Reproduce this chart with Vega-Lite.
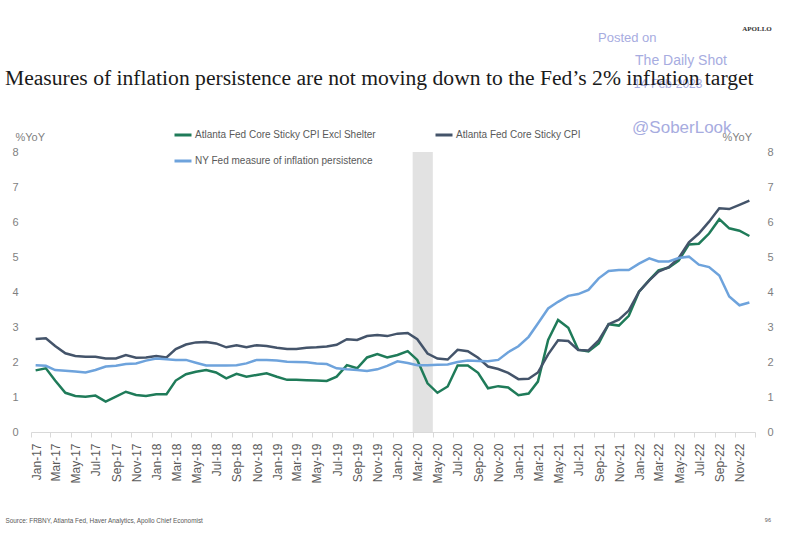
{
  "$schema": "https://vega.github.io/schema/vega-lite/v6.json",
  "width": 724,
  "height": 280,
  "autosize": {"type": "none"},
  "padding": {"left": 31, "top": 152, "right": 31, "bottom": 108},
  "background": "white",
  "title": {
    "text": "Measures of inflation persistence are not moving down to the Fed’s 2% inflation target",
    "anchor": "start", "frame": "group", "orient": "top",
    "font": "Liberation Serif", "fontSize": 21.6, "fontWeight": "normal", "color": "#1a1a1a",
    "baseline": "alphabetic", "offset": 0, "dx": -26, "dy": 81
  },
  "config": {"view": {"stroke": null}, "font": "Liberation Sans", "axis": {"grid": false}},
  "resolve": {"scale": {"y": "independent"}},
  "layer": [
    {
      "data": {"values": [{"start": "2020-03-01", "end": "2020-05-01"}]},
      "mark": {"type": "rect", "color": "#e2e2e2"},
      "encoding": {
        "x": {"field": "start", "type": "temporal",
          "scale": {"type": "utc", "domain": [{"year": 2017, "month": 1, "date": 1, "utc": true}, {"year": 2023, "month": 1, "date": 1, "utc": true}]},
          "axis": {"orient": "bottom", "format": "%b-%y", "labelAngle": 270, "tickCount": {"interval": "month", "step": 2},
            "labelExpr": "utcyear(datum.value) >= 2023 ? '' : datum.label",
            "labelOffset": 5, "labelPadding": 6, "tickSize": 5, "domainColor": "#d9d9d9", "tickColor": "#d9d9d9",
            "labelFontSize": 12, "labelColor": "#595959", "labelFont": "Liberation Sans", "labelOverlap": false, "labelFlush": false, "labelBound": false,
            "title": "Source: FRBNY, Atlanta Fed, Haver Analytics, Apollo Chief Economist",
            "titleX": -26, "titleY": 88, "titleAlign": "left", "titleAnchor": null, "titleBaseline": "middle", "titleAngle": 0,
            "titleFontSize": 6.4, "titleFontWeight": "normal", "titleColor": "#595959", "titleFont": "Liberation Sans"}},
        "x2": {"field": "end"},
        "y": {"datum": 8, "type": "quantitative", "scale": {"domain": [0, 8], "nice": false},
          "axis": {"orient": "right", "values": [0,1,2,3,4,5,6,7,8], "labelOverlap": false, "domain": false, "ticks": false, "tickSize": 0, "labelPadding": 12,
            "labelFontSize": 11, "labelColor": "#7f7f7f", "labelFont": "Liberation Sans",
            "title": "%YoY", "titleAngle": 0, "titleAlign": "left", "titleBaseline": "middle", "titleX": -33, "titleY": -15,
            "titleFontSize": 11, "titleFontWeight": "normal", "titleColor": "#7f7f7f", "titleFont": "Liberation Sans"}},
        "y2": {"datum": 0}
      }
    },
    {
      "data": {"values": [
        {"date":"2017-01-15","series":"excl","value":1.76},{"date":"2017-02-15","series":"excl","value":1.82},{"date":"2017-03-15","series":"excl","value":1.47},{"date":"2017-04-15","series":"excl","value":1.12},{"date":"2017-05-15","series":"excl","value":1.03},{"date":"2017-06-15","series":"excl","value":1.01},{"date":"2017-07-15","series":"excl","value":1.04},{"date":"2017-08-15","series":"excl","value":0.87},{"date":"2017-09-15","series":"excl","value":1.01},{"date":"2017-10-15","series":"excl","value":1.15},{"date":"2017-11-15","series":"excl","value":1.06},{"date":"2017-12-15","series":"excl","value":1.03},
        {"date":"2018-01-15","series":"excl","value":1.08},{"date":"2018-02-15","series":"excl","value":1.08},{"date":"2018-03-15","series":"excl","value":1.47},{"date":"2018-04-15","series":"excl","value":1.65},{"date":"2018-05-15","series":"excl","value":1.72},{"date":"2018-06-15","series":"excl","value":1.77},{"date":"2018-07-15","series":"excl","value":1.70},{"date":"2018-08-15","series":"excl","value":1.53},{"date":"2018-09-15","series":"excl","value":1.66},{"date":"2018-10-15","series":"excl","value":1.58},{"date":"2018-11-15","series":"excl","value":1.63},{"date":"2018-12-15","series":"excl","value":1.68},
        {"date":"2019-01-15","series":"excl","value":1.58},{"date":"2019-02-15","series":"excl","value":1.49},{"date":"2019-03-15","series":"excl","value":1.49},{"date":"2019-04-15","series":"excl","value":1.48},{"date":"2019-05-15","series":"excl","value":1.47},{"date":"2019-06-15","series":"excl","value":1.46},{"date":"2019-07-15","series":"excl","value":1.58},{"date":"2019-08-15","series":"excl","value":1.91},{"date":"2019-09-15","series":"excl","value":1.82},{"date":"2019-10-15","series":"excl","value":2.13},{"date":"2019-11-15","series":"excl","value":2.23},{"date":"2019-12-15","series":"excl","value":2.13},
        {"date":"2020-01-15","series":"excl","value":2.20},{"date":"2020-02-15","series":"excl","value":2.31},{"date":"2020-03-15","series":"excl","value":2.06},{"date":"2020-04-15","series":"excl","value":1.39},{"date":"2020-05-15","series":"excl","value":1.12},{"date":"2020-06-15","series":"excl","value":1.30},{"date":"2020-07-15","series":"excl","value":1.90},{"date":"2020-08-15","series":"excl","value":1.90},{"date":"2020-09-15","series":"excl","value":1.69},{"date":"2020-10-15","series":"excl","value":1.25},{"date":"2020-11-15","series":"excl","value":1.31},{"date":"2020-12-15","series":"excl","value":1.27},
        {"date":"2021-01-15","series":"excl","value":1.05},{"date":"2021-02-15","series":"excl","value":1.10},{"date":"2021-03-15","series":"excl","value":1.44},{"date":"2021-04-15","series":"excl","value":2.63},{"date":"2021-05-15","series":"excl","value":3.20},{"date":"2021-06-15","series":"excl","value":2.98},{"date":"2021-07-15","series":"excl","value":2.35},{"date":"2021-08-15","series":"excl","value":2.30},{"date":"2021-09-15","series":"excl","value":2.53},{"date":"2021-10-15","series":"excl","value":3.08},{"date":"2021-11-15","series":"excl","value":3.04},{"date":"2021-12-15","series":"excl","value":3.32},
        {"date":"2022-01-15","series":"excl","value":4.01},{"date":"2022-02-15","series":"excl","value":4.34},{"date":"2022-03-15","series":"excl","value":4.62},{"date":"2022-04-15","series":"excl","value":4.70},{"date":"2022-05-15","series":"excl","value":4.90},{"date":"2022-06-15","series":"excl","value":5.36},{"date":"2022-07-15","series":"excl","value":5.38},{"date":"2022-08-15","series":"excl","value":5.67},{"date":"2022-09-15","series":"excl","value":6.08},{"date":"2022-10-15","series":"excl","value":5.82},{"date":"2022-11-15","series":"excl","value":5.75},{"date":"2022-12-15","series":"excl","value":5.60},
        {"date":"2017-01-15","series":"sticky","value":2.66},{"date":"2017-02-15","series":"sticky","value":2.68},{"date":"2017-03-15","series":"sticky","value":2.46},{"date":"2017-04-15","series":"sticky","value":2.25},{"date":"2017-05-15","series":"sticky","value":2.17},{"date":"2017-06-15","series":"sticky","value":2.15},{"date":"2017-07-15","series":"sticky","value":2.15},{"date":"2017-08-15","series":"sticky","value":2.10},{"date":"2017-09-15","series":"sticky","value":2.10},{"date":"2017-10-15","series":"sticky","value":2.20},{"date":"2017-11-15","series":"sticky","value":2.12},{"date":"2017-12-15","series":"sticky","value":2.13},
        {"date":"2018-01-15","series":"sticky","value":2.17},{"date":"2018-02-15","series":"sticky","value":2.13},{"date":"2018-03-15","series":"sticky","value":2.37},{"date":"2018-04-15","series":"sticky","value":2.50},{"date":"2018-05-15","series":"sticky","value":2.56},{"date":"2018-06-15","series":"sticky","value":2.57},{"date":"2018-07-15","series":"sticky","value":2.53},{"date":"2018-08-15","series":"sticky","value":2.42},{"date":"2018-09-15","series":"sticky","value":2.48},{"date":"2018-10-15","series":"sticky","value":2.42},{"date":"2018-11-15","series":"sticky","value":2.48},{"date":"2018-12-15","series":"sticky","value":2.46},
        {"date":"2019-01-15","series":"sticky","value":2.41},{"date":"2019-02-15","series":"sticky","value":2.37},{"date":"2019-03-15","series":"sticky","value":2.37},{"date":"2019-04-15","series":"sticky","value":2.41},{"date":"2019-05-15","series":"sticky","value":2.42},{"date":"2019-06-15","series":"sticky","value":2.44},{"date":"2019-07-15","series":"sticky","value":2.49},{"date":"2019-08-15","series":"sticky","value":2.65},{"date":"2019-09-15","series":"sticky","value":2.63},{"date":"2019-10-15","series":"sticky","value":2.74},{"date":"2019-11-15","series":"sticky","value":2.77},{"date":"2019-12-15","series":"sticky","value":2.74},
        {"date":"2020-01-15","series":"sticky","value":2.81},{"date":"2020-02-15","series":"sticky","value":2.83},{"date":"2020-03-15","series":"sticky","value":2.65},{"date":"2020-04-15","series":"sticky","value":2.24},{"date":"2020-05-15","series":"sticky","value":2.10},{"date":"2020-06-15","series":"sticky","value":2.07},{"date":"2020-07-15","series":"sticky","value":2.35},{"date":"2020-08-15","series":"sticky","value":2.31},{"date":"2020-09-15","series":"sticky","value":2.12},{"date":"2020-10-15","series":"sticky","value":1.87},{"date":"2020-11-15","series":"sticky","value":1.80},{"date":"2020-12-15","series":"sticky","value":1.69},
        {"date":"2021-01-15","series":"sticky","value":1.51},{"date":"2021-02-15","series":"sticky","value":1.52},{"date":"2021-03-15","series":"sticky","value":1.70},{"date":"2021-04-15","series":"sticky","value":2.22},{"date":"2021-05-15","series":"sticky","value":2.62},{"date":"2021-06-15","series":"sticky","value":2.60},{"date":"2021-07-15","series":"sticky","value":2.34},{"date":"2021-08-15","series":"sticky","value":2.33},{"date":"2021-09-15","series":"sticky","value":2.62},{"date":"2021-10-15","series":"sticky","value":3.08},{"date":"2021-11-15","series":"sticky","value":3.21},{"date":"2021-12-15","series":"sticky","value":3.47},
        {"date":"2022-01-15","series":"sticky","value":4.01},{"date":"2022-02-15","series":"sticky","value":4.33},{"date":"2022-03-15","series":"sticky","value":4.58},{"date":"2022-04-15","series":"sticky","value":4.71},{"date":"2022-05-15","series":"sticky","value":4.97},{"date":"2022-06-15","series":"sticky","value":5.42},{"date":"2022-07-15","series":"sticky","value":5.67},{"date":"2022-08-15","series":"sticky","value":6.01},{"date":"2022-09-15","series":"sticky","value":6.39},{"date":"2022-10-15","series":"sticky","value":6.37},{"date":"2022-11-15","series":"sticky","value":6.49},{"date":"2022-12-15","series":"sticky","value":6.61},
        {"date":"2017-01-15","series":"ny","value":1.91},{"date":"2017-02-15","series":"ny","value":1.89},{"date":"2017-03-15","series":"ny","value":1.77},{"date":"2017-04-15","series":"ny","value":1.75},{"date":"2017-05-15","series":"ny","value":1.73},{"date":"2017-06-15","series":"ny","value":1.70},{"date":"2017-07-15","series":"ny","value":1.77},{"date":"2017-08-15","series":"ny","value":1.87},{"date":"2017-09-15","series":"ny","value":1.89},{"date":"2017-10-15","series":"ny","value":1.94},{"date":"2017-11-15","series":"ny","value":1.96},{"date":"2017-12-15","series":"ny","value":2.04},
        {"date":"2018-01-15","series":"ny","value":2.10},{"date":"2018-02-15","series":"ny","value":2.08},{"date":"2018-03-15","series":"ny","value":2.06},{"date":"2018-04-15","series":"ny","value":2.06},{"date":"2018-05-15","series":"ny","value":1.98},{"date":"2018-06-15","series":"ny","value":1.90},{"date":"2018-07-15","series":"ny","value":1.90},{"date":"2018-08-15","series":"ny","value":1.90},{"date":"2018-09-15","series":"ny","value":1.91},{"date":"2018-10-15","series":"ny","value":1.96},{"date":"2018-11-15","series":"ny","value":2.06},{"date":"2018-12-15","series":"ny","value":2.06},
        {"date":"2019-01-15","series":"ny","value":2.04},{"date":"2019-02-15","series":"ny","value":2.01},{"date":"2019-03-15","series":"ny","value":2.00},{"date":"2019-04-15","series":"ny","value":1.99},{"date":"2019-05-15","series":"ny","value":1.96},{"date":"2019-06-15","series":"ny","value":1.94},{"date":"2019-07-15","series":"ny","value":1.82},{"date":"2019-08-15","series":"ny","value":1.79},{"date":"2019-09-15","series":"ny","value":1.77},{"date":"2019-10-15","series":"ny","value":1.74},{"date":"2019-11-15","series":"ny","value":1.79},{"date":"2019-12-15","series":"ny","value":1.89},
        {"date":"2020-01-15","series":"ny","value":2.02},{"date":"2020-02-15","series":"ny","value":1.97},{"date":"2020-03-15","series":"ny","value":1.91},{"date":"2020-04-15","series":"ny","value":1.91},{"date":"2020-05-15","series":"ny","value":1.92},{"date":"2020-06-15","series":"ny","value":1.93},{"date":"2020-07-15","series":"ny","value":2.00},{"date":"2020-08-15","series":"ny","value":2.04},{"date":"2020-09-15","series":"ny","value":2.03},{"date":"2020-10-15","series":"ny","value":2.02},{"date":"2020-11-15","series":"ny","value":2.06},{"date":"2020-12-15","series":"ny","value":2.28},
        {"date":"2021-01-15","series":"ny","value":2.45},{"date":"2021-02-15","series":"ny","value":2.72},{"date":"2021-03-15","series":"ny","value":3.10},{"date":"2021-04-15","series":"ny","value":3.53},{"date":"2021-05-15","series":"ny","value":3.72},{"date":"2021-06-15","series":"ny","value":3.89},{"date":"2021-07-15","series":"ny","value":3.94},{"date":"2021-08-15","series":"ny","value":4.06},{"date":"2021-09-15","series":"ny","value":4.39},{"date":"2021-10-15","series":"ny","value":4.60},{"date":"2021-11-15","series":"ny","value":4.63},{"date":"2021-12-15","series":"ny","value":4.63},
        {"date":"2022-01-15","series":"ny","value":4.81},{"date":"2022-02-15","series":"ny","value":4.96},{"date":"2022-03-15","series":"ny","value":4.87},{"date":"2022-04-15","series":"ny","value":4.87},{"date":"2022-05-15","series":"ny","value":4.97},{"date":"2022-06-15","series":"ny","value":5.01},{"date":"2022-07-15","series":"ny","value":4.78},{"date":"2022-08-15","series":"ny","value":4.71},{"date":"2022-09-15","series":"ny","value":4.47},{"date":"2022-10-15","series":"ny","value":3.87},{"date":"2022-11-15","series":"ny","value":3.62},{"date":"2022-12-15","series":"ny","value":3.70}
      ]},
      "mark": {"type": "line", "strokeWidth": 2.5},
      "encoding": {
        "x": {"field": "date", "type": "temporal",
          "scale": {"type": "utc", "domain": [{"year": 2017, "month": 1, "date": 1, "utc": true}, {"year": 2023, "month": 1, "date": 1, "utc": true}]}},
        "y": {"field": "value", "type": "quantitative", "scale": {"domain": [0, 8], "nice": false},
          "axis": {"orient": "left", "values": [0,1,2,3,4,5,6,7,8], "labelOverlap": false, "domain": false, "ticks": false, "tickSize": 0, "labelPadding": 13,
            "labelFontSize": 11, "labelColor": "#7f7f7f", "labelFont": "Liberation Sans",
            "title": "%YoY", "titleAngle": 0, "titleAlign": "left", "titleBaseline": "middle", "titleX": -16, "titleY": -15,
            "titleFontSize": 11, "titleFontWeight": "normal", "titleColor": "#7f7f7f", "titleFont": "Liberation Sans"}},
        "color": {"field": "series", "type": "nominal",
          "scale": {"domain": ["excl", "ny", "sticky"], "range": ["#1f7b59", "#6ea3dc", "#44546a"]},
          "legend": {"orient": "none", "legendX": 142, "legendY": -27, "columns": 2, "title": null,
            "symbolType": "stroke", "symbolSize": 289, "symbolStrokeWidth": 3, "labelOffset": 2,
            "labelFontSize": 10, "labelColor": "#595959", "labelFont": "Liberation Sans", "labelLimit": 300,
            "columnPadding": 53, "rowPadding": 10, "padding": 0,
            "labelExpr": "datum.label == 'excl' ? 'Atlanta Fed Core Sticky CPI Excl Shelter' : datum.label == 'sticky' ? 'Atlanta Fed Core Sticky CPI' : 'NY Fed measure of inflation persistence'"}}
      }
    },
    {
      "data": {"values": [{}]},
      "mark": {"type": "text", "align": "center", "baseline": "middle", "font": "Liberation Serif", "fontSize": 7, "fontWeight": "bold", "color": "#333333"},
      "encoding": {
        "x": {"datum": {"year": 2023, "month": 1, "date": 7, "utc": true}, "type": "temporal", "scale": {"type": "utc", "domain": [{"year": 2017, "month": 1, "date": 1, "utc": true}, {"year": 2023, "month": 1, "date": 1, "utc": true}]}},
        "y": {"datum": 11.51, "type": "quantitative", "scale": {"domain": [0, 8], "nice": false}, "axis": null},
        "text": {"value": "APOLLO"}
      }
    },
    {
      "data": {"values": [{}]},
      "mark": {"type": "text", "align": "left", "baseline": "middle", "font": "Liberation Sans", "fontSize": 13, "color": "#a7acdf"},
      "encoding": {
        "x": {"datum": {"year": 2021, "month": 9, "date": 13, "utc": true}, "type": "temporal", "scale": {"type": "utc", "domain": [{"year": 2017, "month": 1, "date": 1, "utc": true}, {"year": 2023, "month": 1, "date": 1, "utc": true}]}},
        "y": {"datum": 11.26, "type": "quantitative", "scale": {"domain": [0, 8], "nice": false}, "axis": null},
        "text": {"value": "Posted on"}
      }
    },
    {
      "data": {"values": [{}]},
      "mark": {"type": "text", "align": "left", "baseline": "middle", "font": "Liberation Sans", "fontSize": 14, "color": "#a7acdf"},
      "encoding": {
        "x": {"datum": {"year": 2022, "month": 1, "date": 3, "utc": true}, "type": "temporal", "scale": {"type": "utc", "domain": [{"year": 2017, "month": 1, "date": 1, "utc": true}, {"year": 2023, "month": 1, "date": 1, "utc": true}]}},
        "y": {"datum": 10.6, "type": "quantitative", "scale": {"domain": [0, 8], "nice": false}, "axis": null},
        "text": {"value": "The Daily Shot"}
      }
    },
    {
      "data": {"values": [{}]},
      "mark": {"type": "text", "align": "left", "baseline": "middle", "font": "Liberation Sans", "fontSize": 12, "color": "#a7acdf"},
      "encoding": {
        "x": {"datum": {"year": 2021, "month": 12, "date": 30, "utc": true}, "type": "temporal", "scale": {"type": "utc", "domain": [{"year": 2017, "month": 1, "date": 1, "utc": true}, {"year": 2023, "month": 1, "date": 1, "utc": true}]}},
        "y": {"datum": 9.94, "type": "quantitative", "scale": {"domain": [0, 8], "nice": false}, "axis": null},
        "text": {"value": "14-Feb-2023"}
      }
    },
    {
      "data": {"values": [{}]},
      "mark": {"type": "text", "align": "left", "baseline": "middle", "font": "Liberation Sans", "fontSize": 17, "color": "#a7acdf"},
      "encoding": {
        "x": {"datum": {"year": 2021, "month": 12, "date": 25, "utc": true}, "type": "temporal", "scale": {"type": "utc", "domain": [{"year": 2017, "month": 1, "date": 1, "utc": true}, {"year": 2023, "month": 1, "date": 1, "utc": true}]}},
        "y": {"datum": 8.69, "type": "quantitative", "scale": {"domain": [0, 8], "nice": false}, "axis": null},
        "text": {"value": "@SoberLook"}
      }
    },
    {
      "data": {"values": [{}]},
      "mark": {"type": "text", "align": "center", "baseline": "middle", "font": "Liberation Sans", "fontSize": 5.5, "color": "#595959"},
      "encoding": {
        "x": {"datum": {"year": 2023, "month": 2, "date": 9, "utc": true}, "type": "temporal", "scale": {"type": "utc", "domain": [{"year": 2017, "month": 1, "date": 1, "utc": true}, {"year": 2023, "month": 1, "date": 1, "utc": true}]}},
        "y": {"datum": -2.51, "type": "quantitative", "scale": {"domain": [0, 8], "nice": false}, "axis": null},
        "text": {"value": "96"}
      }
    }
  ]
}
